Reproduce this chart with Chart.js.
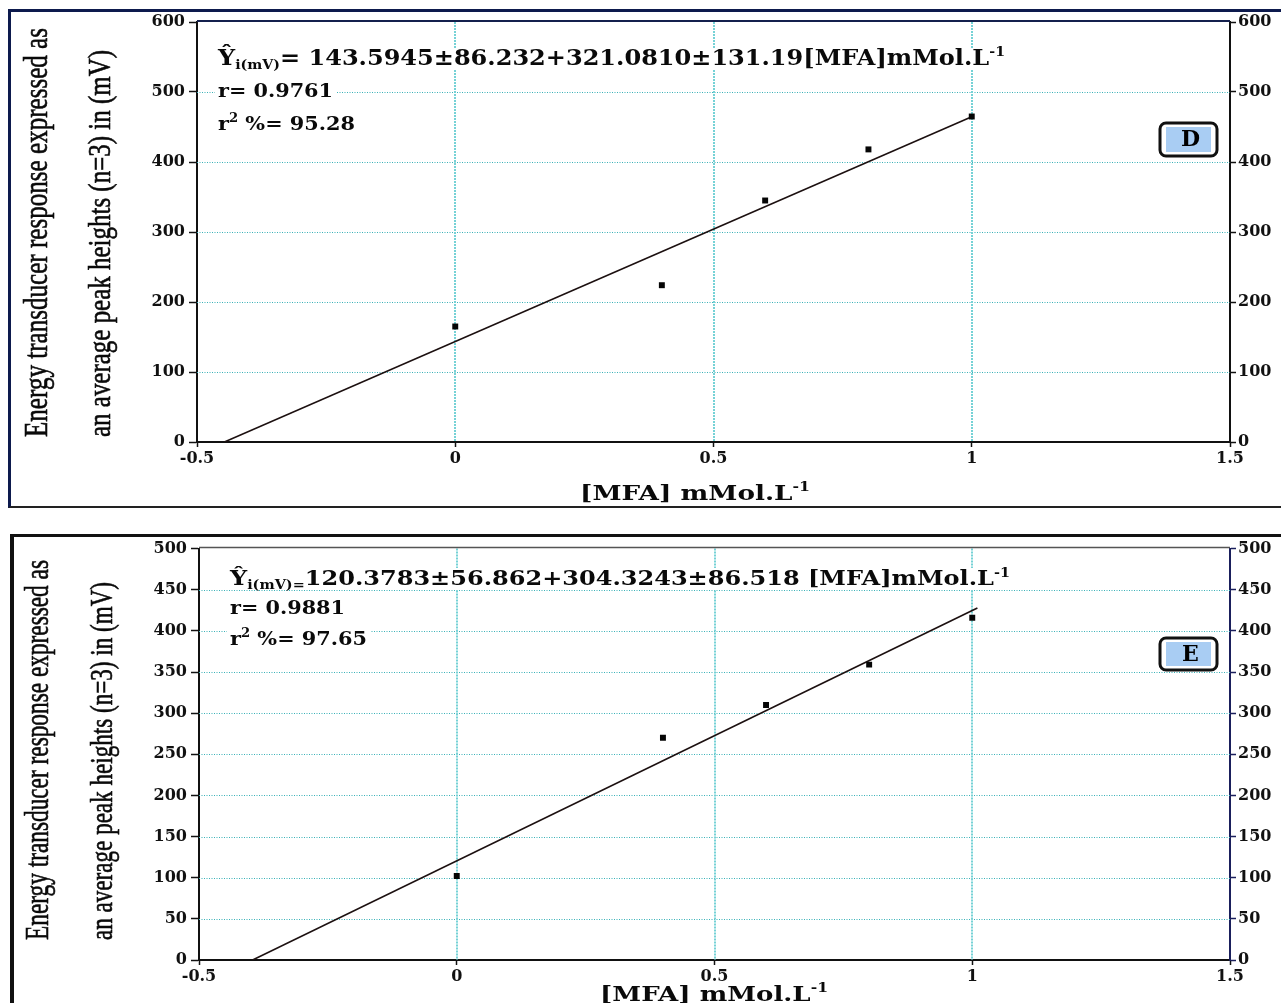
<!DOCTYPE html>
<html>
<head>
<meta charset="utf-8">
<script src="https://cdn.jsdelivr.net/npm/chart.js@4/dist/chart.umd.min.js"></script>
<style>
    body { margin: 0; background: #fff; width: 1281px; height: 1003px; overflow: hidden; position: relative; }
    canvas { position: absolute; left: 0; z-index: 2; }
    .frame { position: absolute; z-index: 1; }
    #frameD { left: 8px; top: 9px; width: 1400px; height: 494px; border-top: 3px solid #0d1a4d; border-left: 3px solid #0d1a4d; border-bottom: 2px solid #222; }
    #frameE { left: 10px; top: 534px; width: 1400px; height: 600px; border-top: 3px solid #111; border-left: 4px solid #111; }
</style>
</head>
<body>
<div class="frame" id="frameD"></div>
<div class="frame" id="frameE"></div>
<canvas id="chartD" width="1281" height="507" style="top:0"></canvas>
<canvas id="chartE" width="1281" height="468" style="top:535px"></canvas>
<script>

// [MFA] concentrations (mMol/L) and mean peak heights (mV)
const mfaConc = [0, 0.4, 0.6, 0.8, 1];
const peakD = [165, 224, 345, 418, 465];
const peakE = [102, 270, 310, 359, 416];

// ends of the fitted regression lines
const fitD = [{ x: -0.447, y: 0 }, { x: 1, y: 464.7 }];
const fitE = [{ x: -0.396, y: 0 }, { x: 1.01, y: 427.7 }];

const xRange = [-0.5, 1.5, 0.5];   // min, max, step
const yRangeD = [0, 600, 100];
const yRangeE = [0, 500, 50];

const yTitle1 = 'Energy transducer response expressed as';
const yTitle2 = 'an average peak heights (n=3) in (mV)';

const SERIF = '"DejaVu Serif"';

// draws text made of pieces (sub/superscripts), squeezed to fit between x0 and x1
const drawRich = (ctx, parts, x0, x1, baseY, whiteBg) => {
    let w = 0;
    parts.forEach(p => {
        ctx.font = `bold ${p.s}px ${SERIF}`;
        w += ctx.measureText(p.t).width;
    });
    const sx = (x1 - x0) / w;
    if (whiteBg) {
        ctx.fillStyle = '#fff';
        ctx.fillRect(x0 - 3, baseY - 17, x1 - x0 + 6, 22);
    }
    ctx.save();
    ctx.translate(x0, baseY);
    ctx.scale(sx, 1);
    ctx.fillStyle = '#0a0a0a';
    ctx.textBaseline = 'alphabetic';
    ctx.textAlign = 'left';
    let x = 0;
    parts.forEach(p => {
        ctx.font = `bold ${p.s}px ${SERIF}`;
        ctx.fillText(p.t, x, p.dy || 0);
        x += ctx.measureText(p.t).width;
    });
    ctx.restore();
};

const drawVertical = (ctx, text, baseX, yStart, yEnd, size) => {
    ctx.save();
    ctx.font = `${size}px "Liberation Serif"`;
    const w = ctx.measureText(text).width;
    ctx.translate(baseX, yStart);
    ctx.rotate(-Math.PI / 2);
    ctx.scale((yStart - yEnd) / w, 1);
    ctx.fillStyle = '#0a0a0a';
    ctx.strokeStyle = '#0a0a0a';
    ctx.lineWidth = 0.6;
    ctx.textBaseline = 'alphabetic';
    ctx.textAlign = 'left';
    ctx.fillText(text, 0, 0);
    ctx.strokeText(text, 0, 0);
    ctx.restore();
};

const drawTag = (ctx, letter, x, y, w, h) => {
    ctx.save();
    ctx.beginPath();
    ctx.roundRect(x, y, w, h, 6);
    ctx.fillStyle = '#fff';
    ctx.fill();
    ctx.lineWidth = 3;
    ctx.strokeStyle = '#111';
    ctx.stroke();
    ctx.fillStyle = '#a9cdf3';
    ctx.fillRect(x + 6, y + 4, w - 12, h - 8);
    ctx.font = `bold 22px ${SERIF}`;
    ctx.fillStyle = '#000';
    ctx.textAlign = 'center';
    ctx.textBaseline = 'middle';
    ctx.fillText(letter, x + w / 2 + 2, y + h / 2 + 1);
    ctx.restore();
};

const makePanel = (info) => ({
    id: 'panel' + info.tag,
    beforeDatasetsDraw: (chart) => {
        const ctx = chart.ctx;
        const area = chart.chartArea;
        const xs = chart.scales.x;
        const ys = chart.scales.y;
        ctx.save();
        ctx.lineWidth = 1.2;
        ctx.setLineDash([1, 1.5]);
        // horizontal grid
        ctx.strokeStyle = 'rgb(58, 178, 184)';
        ys.ticks.forEach(t => {
            if (t.value <= ys.min || t.value >= ys.max) return;
            const y = Math.round(ys.getPixelForValue(t.value)) + 0.5;
            ctx.beginPath();
            ctx.moveTo(area.left, y);
            ctx.lineTo(area.right, y);
            ctx.stroke();
        });
        // vertical grid
        ctx.strokeStyle = 'rgb(118, 210, 214)';
        ctx.lineWidth = 2;
        ctx.setLineDash([2, 1]);
        xs.ticks.forEach(t => {
            if (t.value <= xs.min || t.value >= xs.max) return;
            const x = Math.round(xs.getPixelForValue(t.value));
            ctx.beginPath();
            ctx.moveTo(x, area.top);
            ctx.lineTo(x, area.bottom);
            ctx.stroke();
        });
        ctx.setLineDash([]);
        // top edge of the plot
        ctx.strokeStyle = info.topColor;
        ctx.lineWidth = info.topWidth;
        ctx.beginPath();
        ctx.moveTo(area.left, area.top - 1);
        ctx.lineTo(area.right, area.top - 1);
        ctx.stroke();
        ctx.restore();
    },
    afterDraw: (chart) => {
        const ctx = chart.ctx;
        const oy = info.offsetY;
        info.texts.forEach(tx => drawRich(ctx, tx.parts, tx.x0, tx.x1, tx.y - oy, true));
        drawRich(ctx, info.xTitle.parts, info.xTitle.x0, info.xTitle.x1, info.xTitle.y - oy, false);
        drawVertical(ctx, yTitle1, info.yt1.x, info.yt1.y0 - oy, info.yt1.y1 - oy, 33);
        drawVertical(ctx, yTitle2, info.yt2.x, info.yt2.y0 - oy, info.yt2.y1 - oy, 32);
        drawTag(ctx, info.tag, info.box[0], info.box[1] - oy, info.box[2], info.box[3]);
    }
});

const xTitleParts = [
    { t: '[MFA] mMol.L', s: 20 },
    { t: '-1', s: 12, dy: -9 }
];

const tickFont = { family: SERIF, size: 16, weight: 'bold' };

const buildChart = (canvasId, conc, peaks, fit, yRange, geo, info) => {
    const points = conc.map((x, i) => ({ x: x, y: peaks[i] }));
    const yAxis = (pos) => ({
        type: 'linear',
        position: pos,
        min: yRange[0],
        max: yRange[1],
        ticks: { stepSize: yRange[2], font: tickFont, color: '#111', padding: pos === 'left' ? 4 : 2 },
        grid: { drawOnChartArea: false, tickColor: pos === 'left' ? '#111' : geo.rightColor, tickLength: pos === 'left' ? 8 : 6, tickWidth: 1.5 },
        border: { color: pos === 'left' ? '#111' : geo.rightColor, width: 2 },
        afterFit: (s) => { s.width = pos === 'left' ? geo.left : 1281 - geo.right; }
    });

    return new Chart(document.getElementById(canvasId), {
        type: 'scatter',
        data: {
            datasets: [
                {
                    data: points,
                    pointStyle: 'rect',
                    pointRadius: 4.2,
                    backgroundColor: '#050505',
                    borderColor: '#050505',
                    borderWidth: 0
                },
                {
                    data: fit,
                    showLine: true,
                    borderColor: '#1c1010',
                    borderWidth: 1.6,
                    pointRadius: 0
                }
            ]
        },
        options: {
            responsive: false,
            animation: false,
            layout: { padding: { top: geo.top, left: 0, right: 0, bottom: 0 } },
            plugins: {
                legend: { display: false },
                tooltip: { enabled: false }
            },
            scales: {
                x: {
                    type: 'linear',
                    min: xRange[0],
                    max: xRange[1],
                    ticks: { stepSize: xRange[2], font: tickFont, color: '#111', padding: 2, maxRotation: 0, callback: (v) => String(v) },
                    grid: { drawOnChartArea: false, tickColor: '#111', tickLength: 5, tickWidth: 1.5 },
                    border: { color: '#111', width: 2 },
                    afterFit: (s) => { s.height = geo.height - geo.bottom; }
                },
                y: yAxis('left'),
                y1: yAxis('right')
            }
        },
        plugins: [makePanel(info)]
    });
};

buildChart('chartD', mfaConc, peakD, fitD, yRangeD,
    { top: 22, bottom: 442, left: 197, right: 1230, height: 507, rightColor: '#111' },
    {
        tag: 'D', offsetY: 0, topColor: '#14204d', topWidth: 2,
        box: [1160, 123, 57, 33],
        texts: [
            { x0: 218, x1: 1005, y: 65, parts: [
                { t: 'Ŷ', s: 22 }, { t: 'i(mV)', s: 13, dy: 4 },
                { t: '= 143.5945±86.232+321.0810±131.19[MFA]mMol.L', s: 22 },
                { t: '-1', s: 13, dy: -9 }] },
            { x0: 218, x1: 333, y: 97, parts: [{ t: 'r= 0.9761', s: 19 }] },
            { x0: 218, x1: 355, y: 130, parts: [
                { t: 'r', s: 19 }, { t: '2', s: 12, dy: -8 }, { t: ' %= 95.28', s: 19 }] }
        ],
        xTitle: { x0: 580, x1: 810, y: 500, parts: xTitleParts },
        yt1: { x: 47, y0: 437, y1: 28 },
        yt2: { x: 110, y0: 437, y1: 50 }
    });

buildChart('chartE', mfaConc, peakE, fitE, yRangeE,
    { top: 13, bottom: 425, left: 199, right: 1230, height: 468, rightColor: '#1a1f5c' },
    {
        tag: 'E', offsetY: 535, topColor: '#555', topWidth: 1.5,
        box: [1160, 638, 57, 32],
        texts: [
            { x0: 230, x1: 1010, y: 585, parts: [
                { t: 'Ŷ', s: 20 }, { t: 'i(mV)=', s: 12, dy: 4 },
                { t: '120.3783±56.862+304.3243±86.518 [MFA]mMol.L', s: 20 },
                { t: '-1', s: 12, dy: -8 }] },
            { x0: 230, x1: 345, y: 614, parts: [{ t: 'r= 0.9881', s: 19 }] },
            { x0: 230, x1: 367, y: 645, parts: [
                { t: 'r', s: 19 }, { t: '2', s: 12, dy: -8 }, { t: ' %= 97.65', s: 19 }] }
        ],
        xTitle: { x0: 600, x1: 828, y: 1001, parts: xTitleParts },
        yt1: { x: 48, y0: 940, y1: 560 },
        yt2: { x: 112, y0: 940, y1: 582 }
    });

</script>
</body>
</html>
